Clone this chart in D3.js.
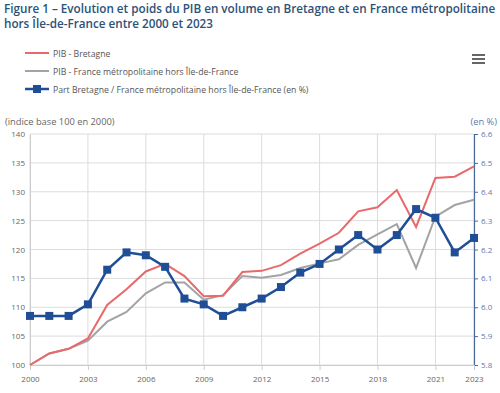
<!DOCTYPE html>
<html>
<head>
<meta charset="utf-8">
<script src="https://cdn.jsdelivr.net/npm/d3@7"></script>
<style>
  body { margin: 0; background: #fff; font-family: "Open Sans", sans-serif; }
  svg { display: block; }
</style>
</head>
<body>
<svg id="chart" width="500" height="393"></svg>
<script>
// Years and series
const years = d3.range(2000, 2024);
const pibBretagne = [100, 102, 102.8, 104.6, 110.4, 113.1, 116.2, 117.5, 115.4, 111.9, 112.0, 116.1,
  116.3, 117.3, 119.3, 121.0, 122.9, 126.6, 127.3, 130.3, 123.9, 132.4, 132.6, 134.4];
const pibFrance = [100, 102, 102.8, 104.2, 107.5, 109.2, 112.4, 114.3, 114.3, 111.3, 112.1, 115.4,
  115.1, 115.6, 116.8, 117.6, 118.3, 120.8, 122.6, 124.4, 116.8, 125.7, 127.7, 128.6];
const partBretagne = [5.97, 5.97, 5.97, 6.01, 6.13, 6.19, 6.18, 6.14, 6.03, 6.01, 5.97, 6.00,
  6.03, 6.07, 6.12, 6.15, 6.20, 6.25, 6.20, 6.25, 6.34, 6.31, 6.19, 6.24];
const xTicks = [2000, 2003, 2006, 2009, 2012, 2015, 2018, 2021, 2023];
const leftTicks = [100, 105, 110, 115, 120, 125, 130, 135, 140];
const rightTicks = [5.8, 5.9, 6.0, 6.1, 6.2, 6.3, 6.4, 6.5, 6.6];
const legendLabels = ["PIB - Bretagne", "PIB - France métropolitaine hors Île-de-France",
  "Part Bretagne / France métropolitaine hors Île-de-France (en %)"];
const titleLines = ["Figure 1 – Evolution et poids du PIB en volume en Bretagne et en France métropolitaine",
  "hors Île-de-France entre 2000 et 2023"];

const red = "#e8696b", gray = "#a3a3a3", blue = "#1f4e96";
const svg = d3.select("#chart");
const m = {left: 30, right: 474, top: 134, bottom: 365};

const x = d3.scaleLinear().domain([2000, 2023]).range([m.left, m.right]);
const yL = d3.scaleLinear().domain([100, 140]).range([m.bottom, m.top]);
const yR = d3.scaleLinear().domain([5.8, 6.6]).range([m.bottom, m.top]);

// Title (two lines)
titleLines.forEach((t, i) => {
  svg.append("text").attr("x", 4).attr("y", 13 + i * 15)
    .attr("fill", "#2b5278").attr("font-size", 11.7).attr("font-weight", 600).text(t);
});

// Legend
const colors = [red, gray, blue];
legendLabels.forEach((t, i) => {
  const ly = 53 + i * 18;
  svg.append("line").attr("x1", 25).attr("x2", 49).attr("y1", ly).attr("y2", ly)
    .attr("stroke", colors[i]).attr("stroke-width", i === 2 ? 2.5 : 2);
  if (i === 2) svg.append("rect").attr("x", 33).attr("y", ly - 4).attr("width", 8).attr("height", 8).attr("fill", blue);
  svg.append("text").attr("x", 53).attr("y", ly + 3.5).attr("font-size", 8.7)
    .attr("fill", "#555").text(t);
});

// Menu icon
[0, 4, 8].forEach(d => svg.append("rect").attr("x", 472).attr("y", 54 + d)
  .attr("width", 13).attr("height", 2).attr("fill", "#666"));

// Axis titles
svg.append("text").attr("x", 5).attr("y", 125).attr("font-size", 9.3).attr("fill", "#666")
  .text("(indice base 100 en 2000)");
svg.append("text").attr("x", 497).attr("y", 125).attr("font-size", 9.3).attr("fill", "#5a7bb0")
  .attr("text-anchor", "end").text("(en %)");

// Grid
svg.append("g").selectAll("line").data(leftTicks).join("line")
  .attr("x1", m.left).attr("x2", m.right).attr("y1", d => yL(d)).attr("y2", d => yL(d))
  .attr("stroke", "#dcdcdc").attr("stroke-width", 1);
svg.append("g").selectAll("line").data(xTicks).join("line")
  .attr("x1", d => x(d)).attr("x2", d => x(d)).attr("y1", m.top).attr("y2", m.bottom)
  .attr("stroke", "#dcdcdc").attr("stroke-width", 1);

// Left axis
const gL = svg.append("g").attr("transform", `translate(${m.left},0)`)
  .call(d3.axisLeft(yL).tickValues(leftTicks).tickSize(0).tickPadding(5));
gL.select(".domain").attr("stroke", "#ccc");
gL.selectAll("text").attr("font-size", 8).attr("fill", "#666").attr("font-family", "Open Sans");

// Right axis
const gR = svg.append("g").attr("transform", `translate(${m.right},0)`)
  .call(d3.axisRight(yR).tickValues(rightTicks).tickSize(4).tickPadding(3).tickFormat(d3.format(".1f")));
gR.select(".domain").attr("stroke", "#4a6a9c").attr("stroke-width", 1.2);
gR.selectAll(".tick line").attr("stroke", "#4a6a9c");
gR.selectAll("text").attr("font-size", 8).attr("fill", "#5a7bb0").attr("font-family", "Open Sans");

// Bottom axis
const gB = svg.append("g").attr("transform", `translate(0,${m.bottom})`)
  .call(d3.axisBottom(x).tickValues(xTicks).tickSize(5).tickPadding(6).tickFormat(d3.format("d")));
gB.select(".domain").attr("stroke", "#ccc");
gB.selectAll(".tick line").attr("stroke", "#ccc");
gB.selectAll("text").attr("font-size", 8).attr("fill", "#666").attr("font-family", "Open Sans");

// Lines
const lineL = d3.line().x((d, i) => x(years[i])).y(d => yL(d));
const lineR = d3.line().x((d, i) => x(years[i])).y(d => yR(d));
svg.append("path").datum(pibFrance).attr("d", lineL).attr("fill", "none")
  .attr("stroke", gray).attr("stroke-width", 2);
svg.append("path").datum(pibBretagne).attr("d", lineL).attr("fill", "none")
  .attr("stroke", red).attr("stroke-width", 2);
svg.append("path").datum(partBretagne).attr("d", lineR).attr("fill", "none")
  .attr("stroke", blue).attr("stroke-width", 2.5);
svg.append("g").selectAll("rect").data(partBretagne).join("rect")
  .attr("x", (d, i) => x(years[i]) - 4).attr("y", d => yR(d) - 4)
  .attr("width", 8).attr("height", 8).attr("fill", blue);
</script>
</body>
</html>
